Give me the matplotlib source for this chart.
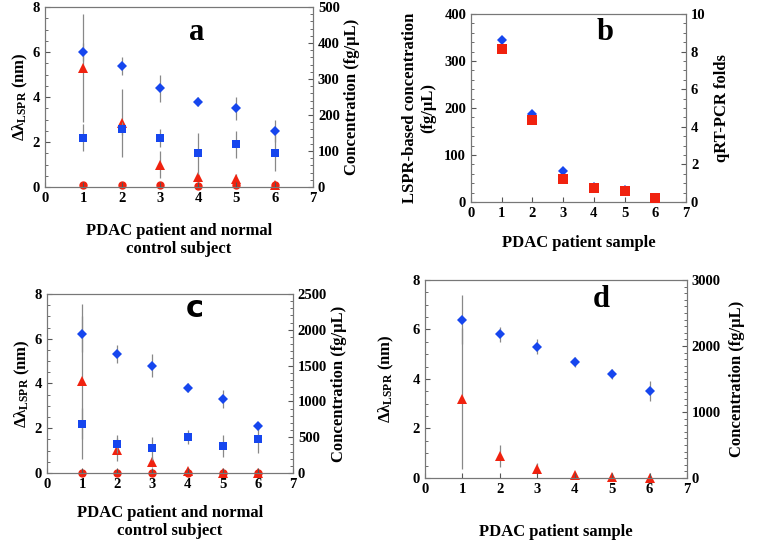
import numpy as np
import matplotlib.pyplot as plt
from matplotlib.ticker import MultipleLocator, AutoMinorLocator

plt.rcParams['font.family'] = ['Liberation Serif', 'DejaVu Serif']
plt.rcParams['font.weight'] = 'bold'
plt.rcParams['axes.labelweight'] = 'bold'
plt.rcParams['mathtext.default'] = 'regular'

samples = [1, 2, 3, 4, 5, 6]

# ---- panel a ----
a_dia = [6.0, 5.4, 4.4, 3.8, 3.5, 2.5]
a_dia_err = [0.4, 0.4, 0.6, 0.2, 0.5, 0.5]
a_sq = [2.2, 2.6, 2.2, 1.5, 1.9, 1.5]
a_sq_err = [0.6, 0.3, 0.4, 0.9, 0.6, 0.8]
a_tri = [331, 178, 62, 28, 22, 6]          # fg/uL
a_tri_err = [150, 94, 38, 6, 13, 3]
a_circ = [6, 7, 6, 3, 5, 5]

# ---- panel b ----
b_lspr = [345, 187, 66, 31, 25, 8]          # fg/uL
b_pcr = [8.13, 4.38, 1.25, 0.75, 0.6, 0.2]  # folds

# ---- panel c ----
c_dia = [6.2, 5.3, 4.8, 3.8, 3.3, 2.1]
c_dia_err = [0.8, 0.4, 0.5, 0.2, 0.4, 0.2]
c_sq = [2.2, 1.3, 1.1, 1.6, 1.2, 1.5]
c_sq_err = [0.7, 0.4, 0.5, 0.3, 0.5, 0.6]
c_tri = [1281, 328, 156, 31, 6, 2]
c_tri_err = [1080, 160, 70, 20, 5, 2]
c_circ = [5, 5, 5, 5, 5, 5]

# ---- panel d ----
d_dia = [6.4, 5.8, 5.3, 4.7, 4.2, 3.5]
d_dia_err = [1.0, 0.3, 0.3, 0.2, 0.2, 0.4]
d_tri = [1200, 338, 143, 38, 11, 0]
d_tri_err = [1070, 165, 90, 10, 5, 2]

BLUE = '#1646ee'
RED = '#f0220f'
GREY = '#888888'
LBL = 12

fig = plt.figure(figsize=(7.68, 5.41), dpi=100)


def style(ax, ax2, ymax, ymaj, y2max, y2maj, y2min):
	ax.set_xlim(0, 7)
	ax.set_ylim(0, ymax)
	ax2.set_ylim(0, y2max)
	ax.xaxis.set_major_locator(MultipleLocator(1))
	ax.yaxis.set_major_locator(MultipleLocator(ymaj))
	ax.yaxis.set_minor_locator(AutoMinorLocator(4))
	ax2.yaxis.set_major_locator(MultipleLocator(y2maj))
	ax2.yaxis.set_minor_locator(MultipleLocator(y2min))
	for a in (ax, ax2):
		a.tick_params(direction='in', labelsize=10.5, color='#555555', width=0.8)
		a.tick_params(which='minor', direction='in', length=2, color='#555555')
		for s in a.spines.values():
			s.set_color('#777777')
	ax.tick_params(axis='x', which='both', top=False)


def errpts(ax, y, err, marker, color, ms, z=3):
	ax.errorbar(samples, y, yerr=err, fmt=marker, color=color, ms=ms, mew=0,
				ecolor=GREY, elinewidth=0.9, capsize=2, capthick=0.8, zorder=z,
				clip_on=False)


# panel a
ax = fig.add_axes([0.0586, 0.6543, 0.349, 0.3327])
ax2 = ax.twinx()
errpts(ax2, a_tri, a_tri_err, '^', RED, 7)
ax2.plot(samples, a_circ, 'o', color=RED, ms=5, clip_on=False)
errpts(ax, a_dia, a_dia_err, 'D', BLUE, 5)
errpts(ax, a_sq, a_sq_err, 's', BLUE, 6)
ax.set_zorder(ax2.get_zorder() + 1)
ax.patch.set_visible(False)
style(ax, ax2, 8, 2, 500, 100, 20)
ax.set_ylabel('Δλ$_{\\mathregular{LSPR}}$ (nm)', fontsize=LBL, labelpad=2)
ax2.set_ylabel('Concentration (fg/μL)', fontsize=LBL, labelpad=3)
ax.set_xlabel('PDAC patient and normal\ncontrol subject', fontsize=LBL, labelpad=13)
ax.text(3.95, 6.55, 'a', fontsize=22, fontweight='bold', ha='center')

# panel b
ax = fig.add_axes([0.6133, 0.6266, 0.28, 0.3475])
ax2 = ax.twinx()
ax.plot(samples, b_lspr, 'D', color=BLUE, ms=5, mew=0, zorder=2, clip_on=False)
ax2.plot(samples, b_pcr, 's', color=RED, ms=7.5, mew=0, zorder=3, clip_on=False)
style(ax, ax2, 400, 100, 10, 2, 0.5)
ax.yaxis.set_minor_locator(MultipleLocator(20))
ax.set_ylabel('LSPR-based concentration\n(fg/μL)', fontsize=LBL, labelpad=6)
ax2.set_ylabel('qRT-PCR folds', fontsize=LBL, labelpad=6)
ax.set_xlabel('PDAC patient sample', fontsize=LBL, labelpad=11)
ax.text(4.35, 345, 'b', fontsize=22, fontweight='bold', ha='center')

# panel c
ax = fig.add_axes([0.0612, 0.1257, 0.3203, 0.331])
ax2 = ax.twinx()
errpts(ax2, c_tri, c_tri_err, '^', RED, 7)
ax2.plot(samples, c_circ, 'o', color=RED, ms=5, clip_on=False)
errpts(ax, c_dia, c_dia_err, 'D', BLUE, 5)
errpts(ax, c_sq, c_sq_err, 's', BLUE, 6)
ax.set_zorder(ax2.get_zorder() + 1)
ax.patch.set_visible(False)
style(ax, ax2, 8, 2, 2500, 500, 100)
ax.set_ylabel('Δλ$_{\\mathregular{LSPR}}$ (nm)', fontsize=LBL, labelpad=2)
ax2.set_ylabel('Concentration (fg/μL)', fontsize=LBL, labelpad=3)
ax.set_xlabel('PDAC patient and normal\ncontrol subject', fontsize=LBL, labelpad=10)
ax.text(4.2, 6.95, 'c', fontsize=22, fontweight='bold', ha='center', family='DejaVu Sans')

# panel d
ax = fig.add_axes([0.5534, 0.1165, 0.3411, 0.366])
ax2 = ax.twinx()
errpts(ax2, d_tri, d_tri_err, '^', RED, 7)
errpts(ax, d_dia, d_dia_err, 'D', BLUE, 5)
ax.set_zorder(ax2.get_zorder() + 1)
ax.patch.set_visible(False)
style(ax, ax2, 8, 2, 3000, 1000, 100)
ax.set_ylabel('Δλ$_{\\mathregular{LSPR}}$ (nm)', fontsize=LBL, labelpad=12)
ax2.set_ylabel('Concentration (fg/μL)', fontsize=LBL, labelpad=6)
ax.set_xlabel('PDAC patient sample', fontsize=LBL, labelpad=20)
ax.text(4.7, 6.9, 'd', fontsize=22, fontweight='bold', ha='center')

fig.savefig('out.png', dpi=100)
